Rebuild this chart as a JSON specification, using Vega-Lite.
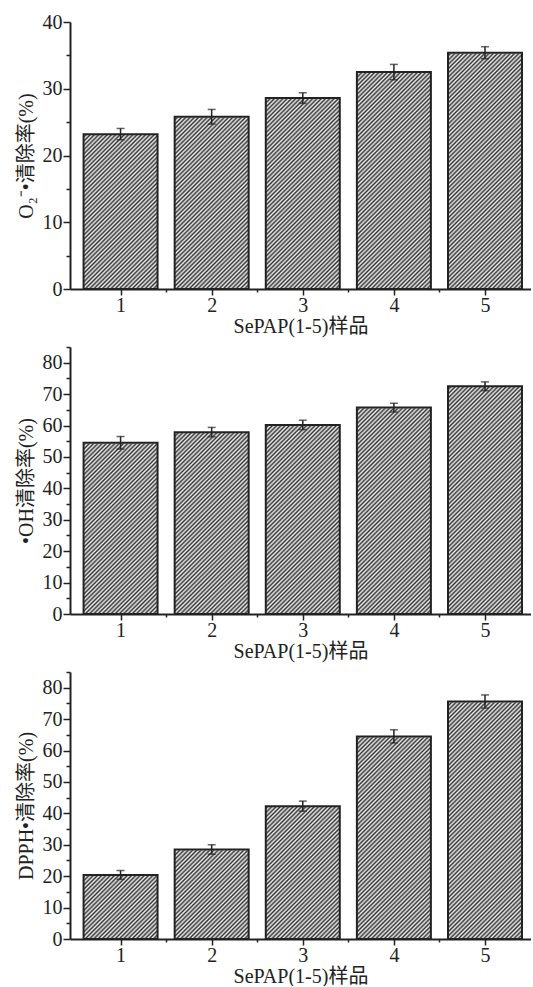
{
"$schema": "https://vega.github.io/schema/vega-lite/v6.json",
"padding": {"left": 16, "top": 12, "right": 0, "bottom": 0},
"spacing": 10,
"params": [{"name": "hatch", "value": {"gradient": "linear", "x1": 0, "y1": 0, "x2": 0.3288, "y2": 1.1861, "stops": [
{"offset":0,"color":"#333"},{"offset":0.00625,"color":"#eee"},{"offset":0.0125,"color":"#333"},{"offset":0.01875,"color":"#eee"},{"offset":0.025,"color":"#333"},{"offset":0.03125,"color":"#eee"},{"offset":0.0375,"color":"#333"},{"offset":0.04375,"color":"#eee"},{"offset":0.05,"color":"#333"},{"offset":0.05625,"color":"#eee"},{"offset":0.0625,"color":"#333"},{"offset":0.06875,"color":"#eee"},{"offset":0.075,"color":"#333"},{"offset":0.08125,"color":"#eee"},{"offset":0.0875,"color":"#333"},{"offset":0.09375,"color":"#eee"},
{"offset":0.1,"color":"#333"},{"offset":0.10625,"color":"#eee"},{"offset":0.1125,"color":"#333"},{"offset":0.11875,"color":"#eee"},{"offset":0.125,"color":"#333"},{"offset":0.13125,"color":"#eee"},{"offset":0.1375,"color":"#333"},{"offset":0.14375,"color":"#eee"},{"offset":0.15,"color":"#333"},{"offset":0.15625,"color":"#eee"},{"offset":0.1625,"color":"#333"},{"offset":0.16875,"color":"#eee"},{"offset":0.175,"color":"#333"},{"offset":0.18125,"color":"#eee"},{"offset":0.1875,"color":"#333"},{"offset":0.19375,"color":"#eee"},
{"offset":0.2,"color":"#333"},{"offset":0.20625,"color":"#eee"},{"offset":0.2125,"color":"#333"},{"offset":0.21875,"color":"#eee"},{"offset":0.225,"color":"#333"},{"offset":0.23125,"color":"#eee"},{"offset":0.2375,"color":"#333"},{"offset":0.24375,"color":"#eee"},{"offset":0.25,"color":"#333"},{"offset":0.25625,"color":"#eee"},{"offset":0.2625,"color":"#333"},{"offset":0.26875,"color":"#eee"},{"offset":0.275,"color":"#333"},{"offset":0.28125,"color":"#eee"},{"offset":0.2875,"color":"#333"},{"offset":0.29375,"color":"#eee"},
{"offset":0.3,"color":"#333"},{"offset":0.30625,"color":"#eee"},{"offset":0.3125,"color":"#333"},{"offset":0.31875,"color":"#eee"},{"offset":0.325,"color":"#333"},{"offset":0.33125,"color":"#eee"},{"offset":0.3375,"color":"#333"},{"offset":0.34375,"color":"#eee"},{"offset":0.35,"color":"#333"},{"offset":0.35625,"color":"#eee"},{"offset":0.3625,"color":"#333"},{"offset":0.36875,"color":"#eee"},{"offset":0.375,"color":"#333"},{"offset":0.38125,"color":"#eee"},{"offset":0.3875,"color":"#333"},{"offset":0.39375,"color":"#eee"},
{"offset":0.4,"color":"#333"},{"offset":0.40625,"color":"#eee"},{"offset":0.4125,"color":"#333"},{"offset":0.41875,"color":"#eee"},{"offset":0.425,"color":"#333"},{"offset":0.43125,"color":"#eee"},{"offset":0.4375,"color":"#333"},{"offset":0.44375,"color":"#eee"},{"offset":0.45,"color":"#333"},{"offset":0.45625,"color":"#eee"},{"offset":0.4625,"color":"#333"},{"offset":0.46875,"color":"#eee"},{"offset":0.475,"color":"#333"},{"offset":0.48125,"color":"#eee"},{"offset":0.4875,"color":"#333"},{"offset":0.49375,"color":"#eee"},
{"offset":0.5,"color":"#333"},{"offset":0.50625,"color":"#eee"},{"offset":0.5125,"color":"#333"},{"offset":0.51875,"color":"#eee"},{"offset":0.525,"color":"#333"},{"offset":0.53125,"color":"#eee"},{"offset":0.5375,"color":"#333"},{"offset":0.54375,"color":"#eee"},{"offset":0.55,"color":"#333"},{"offset":0.55625,"color":"#eee"},{"offset":0.5625,"color":"#333"},{"offset":0.56875,"color":"#eee"},{"offset":0.575,"color":"#333"},{"offset":0.58125,"color":"#eee"},{"offset":0.5875,"color":"#333"},{"offset":0.59375,"color":"#eee"},
{"offset":0.6,"color":"#333"},{"offset":0.60625,"color":"#eee"},{"offset":0.6125,"color":"#333"},{"offset":0.61875,"color":"#eee"},{"offset":0.625,"color":"#333"},{"offset":0.63125,"color":"#eee"},{"offset":0.6375,"color":"#333"},{"offset":0.64375,"color":"#eee"},{"offset":0.65,"color":"#333"},{"offset":0.65625,"color":"#eee"},{"offset":0.6625,"color":"#333"},{"offset":0.66875,"color":"#eee"},{"offset":0.675,"color":"#333"},{"offset":0.68125,"color":"#eee"},{"offset":0.6875,"color":"#333"},{"offset":0.69375,"color":"#eee"},
{"offset":0.7,"color":"#333"},{"offset":0.70625,"color":"#eee"},{"offset":0.7125,"color":"#333"},{"offset":0.71875,"color":"#eee"},{"offset":0.725,"color":"#333"},{"offset":0.73125,"color":"#eee"},{"offset":0.7375,"color":"#333"},{"offset":0.74375,"color":"#eee"},{"offset":0.75,"color":"#333"},{"offset":0.75625,"color":"#eee"},{"offset":0.7625,"color":"#333"},{"offset":0.76875,"color":"#eee"},{"offset":0.775,"color":"#333"},{"offset":0.78125,"color":"#eee"},{"offset":0.7875,"color":"#333"},{"offset":0.79375,"color":"#eee"},
{"offset":0.8,"color":"#333"},{"offset":0.80625,"color":"#eee"},{"offset":0.8125,"color":"#333"},{"offset":0.81875,"color":"#eee"},{"offset":0.825,"color":"#333"},{"offset":0.83125,"color":"#eee"},{"offset":0.8375,"color":"#333"},{"offset":0.84375,"color":"#eee"},{"offset":0.85,"color":"#333"},{"offset":0.85625,"color":"#eee"},{"offset":0.8625,"color":"#333"},{"offset":0.86875,"color":"#eee"},{"offset":0.875,"color":"#333"},{"offset":0.88125,"color":"#eee"},{"offset":0.8875,"color":"#333"},{"offset":0.89375,"color":"#eee"},
{"offset":0.9,"color":"#333"},{"offset":0.90625,"color":"#eee"},{"offset":0.9125,"color":"#333"},{"offset":0.91875,"color":"#eee"},{"offset":0.925,"color":"#333"},{"offset":0.93125,"color":"#eee"},{"offset":0.9375,"color":"#333"},{"offset":0.94375,"color":"#eee"},{"offset":0.95,"color":"#333"},{"offset":0.95625,"color":"#eee"},{"offset":0.9625,"color":"#333"},{"offset":0.96875,"color":"#eee"},{"offset":0.975,"color":"#333"},{"offset":0.98125,"color":"#eee"},{"offset":0.9875,"color":"#333"},{"offset":0.99375,"color":"#eee"},
{"offset":1,"color":"#333"}
]}}],
"datasets": {
"p1": [{"s":1,"v":23.2,"e":0.85},{"s":2,"v":25.8,"e":1.1},{"s":3,"v":28.6,"e":0.8},{"s":4,"v":32.5,"e":1.15},{"s":5,"v":35.4,"e":0.9}],
"p2": [{"s":1,"v":54.5,"e":2.0},{"s":2,"v":57.9,"e":1.5},{"s":3,"v":60.2,"e":1.5},{"s":4,"v":65.7,"e":1.4},{"s":5,"v":72.5,"e":1.4}],
"p3": [{"s":1,"v":20.4,"e":1.4},{"s":2,"v":28.5,"e":1.5},{"s":3,"v":42.3,"e":1.6},{"s":4,"v":64.5,"e":2.1},{"s":5,"v":75.6,"e":2.1}]
},
"config": {
"view": {"stroke": null},
"axis": {"domainColor": "#222", "domainWidth": 2, "tickColor": "#222", "tickWidth": 1.5, "grid": false, "labelFont": "Liberation Serif", "labelFontSize": 20, "labelColor": "#222", "titleFont": "Liberation Serif, Noto Sans CJK SC", "titleFontSize": 20, "titleFontWeight": "normal", "titleColor": "#222", "zindex": 1},
"axisY": {"labelPadding": 1, "titlePadding": 6},
"axisX": {"labelPadding": 0, "titlePadding": 1}
},
"vconcat": [
{
"width": 461, "height": 267,
"data": {"name": "p1"},
"encoding": {
"x": {"field": "s", "type": "quantitative", "title": "SePAP(1-5)样品", "scale": {"domain": [0.5, 5.45], "nice": false, "zero": false}, "axis": {"values": [1,1.5,2,2.5,3,3.5,4,4.5,5], "labelExpr": "datum.value % 1 == 0 ? format(datum.value, 'd') : ''", "tickSize": {"condition": {"test": "datum.value % 1 != 0", "value": 3}, "value": 6}}},
"y": {"field": "v", "type": "quantitative", "title": "O₂⁻•清除率(%)", "scale": {"domain": [0, 40], "nice": false}, "axis": {"values": [0,5,10,15,20,25,30,35,40], "labelExpr": "datum.value % 10 == 0 ? format(datum.value, 'd') : ''", "tickSize": {"condition": {"test": "datum.value % 10 != 0", "value": 4}, "value": 7}}}
},
"layer": [
{"mark": {"type": "bar", "fill": {"expr": "hatch"}, "size": 74}, "encoding": {"y": {"datum": 40, "type": "quantitative", "title": "O₂⁻•清除率(%)", "scale": {"domain": [0, 40], "nice": false}, "axis": {"values": [0,5,10,15,20,25,30,35,40], "labelExpr": "datum.value % 10 == 0 ? format(datum.value, 'd') : ''", "tickSize": {"condition": {"test": "datum.value % 10 != 0", "value": 4}, "value": 7}}}, "y2": {"datum": 0}}},
{"mark": {"type": "bar", "size": 74, "fill": "white", "stroke": "white", "strokeWidth": 1.5}, "encoding": {"y2": {"datum": 40}}},
{"mark": {"type": "bar", "size": 74, "filled": false, "stroke": "#222", "strokeWidth": 2}},
{"mark": {"type": "errorbar", "ticks": {"size": 8}, "color": "#222", "thickness": 1.5}, "encoding": {"yError": {"field": "e"}}}
]
},
{
"width": 461, "height": 267,
"data": {"name": "p2"},
"encoding": {
"x": {"field": "s", "type": "quantitative", "title": "SePAP(1-5)样品", "scale": {"domain": [0.5, 5.45], "nice": false, "zero": false}, "axis": {"values": [1,1.5,2,2.5,3,3.5,4,4.5,5], "labelExpr": "datum.value % 1 == 0 ? format(datum.value, 'd') : ''", "tickSize": {"condition": {"test": "datum.value % 1 != 0", "value": 3}, "value": 6}}},
"y": {"field": "v", "type": "quantitative", "title": "•OH清除率(%)", "scale": {"domain": [0, 85], "nice": false}, "axis": {"values": [0,5,10,15,20,25,30,35,40,45,50,55,60,65,70,75,80,85], "labelExpr": "datum.value % 10 == 0 ? format(datum.value, 'd') : ''", "tickSize": {"condition": {"test": "datum.value % 10 != 0", "value": 4}, "value": 7}}}
},
"layer": [
{"mark": {"type": "bar", "fill": {"expr": "hatch"}, "size": 74}, "encoding": {"y": {"datum": 85, "type": "quantitative", "title": "•OH清除率(%)", "scale": {"domain": [0, 85], "nice": false}, "axis": {"values": [0,5,10,15,20,25,30,35,40,45,50,55,60,65,70,75,80,85], "labelExpr": "datum.value % 10 == 0 ? format(datum.value, 'd') : ''", "tickSize": {"condition": {"test": "datum.value % 10 != 0", "value": 4}, "value": 7}}}, "y2": {"datum": 0}}},
{"mark": {"type": "bar", "size": 74, "fill": "white", "stroke": "white", "strokeWidth": 1.5}, "encoding": {"y2": {"datum": 85}}},
{"mark": {"type": "bar", "size": 74, "filled": false, "stroke": "#222", "strokeWidth": 2}},
{"mark": {"type": "errorbar", "ticks": {"size": 8}, "color": "#222", "thickness": 1.5}, "encoding": {"yError": {"field": "e"}}}
]
},
{
"width": 461, "height": 267,
"data": {"name": "p3"},
"encoding": {
"x": {"field": "s", "type": "quantitative", "title": "SePAP(1-5)样品", "scale": {"domain": [0.5, 5.45], "nice": false, "zero": false}, "axis": {"values": [1,1.5,2,2.5,3,3.5,4,4.5,5], "labelExpr": "datum.value % 1 == 0 ? format(datum.value, 'd') : ''", "tickSize": {"condition": {"test": "datum.value % 1 != 0", "value": 3}, "value": 6}}},
"y": {"field": "v", "type": "quantitative", "title": "DPPH•清除率(%)", "scale": {"domain": [0, 85], "nice": false}, "axis": {"values": [0,5,10,15,20,25,30,35,40,45,50,55,60,65,70,75,80,85], "labelExpr": "datum.value % 10 == 0 ? format(datum.value, 'd') : ''", "tickSize": {"condition": {"test": "datum.value % 10 != 0", "value": 4}, "value": 7}}}
},
"layer": [
{"mark": {"type": "bar", "fill": {"expr": "hatch"}, "size": 74}, "encoding": {"y": {"datum": 85, "type": "quantitative", "title": "DPPH•清除率(%)", "scale": {"domain": [0, 85], "nice": false}, "axis": {"values": [0,5,10,15,20,25,30,35,40,45,50,55,60,65,70,75,80,85], "labelExpr": "datum.value % 10 == 0 ? format(datum.value, 'd') : ''", "tickSize": {"condition": {"test": "datum.value % 10 != 0", "value": 4}, "value": 7}}}, "y2": {"datum": 0}}},
{"mark": {"type": "bar", "size": 74, "fill": "white", "stroke": "white", "strokeWidth": 1.5}, "encoding": {"y2": {"datum": 85}}},
{"mark": {"type": "bar", "size": 74, "filled": false, "stroke": "#222", "strokeWidth": 2}},
{"mark": {"type": "errorbar", "ticks": {"size": 8}, "color": "#222", "thickness": 1.5}, "encoding": {"yError": {"field": "e"}}}
]
}
]
}
